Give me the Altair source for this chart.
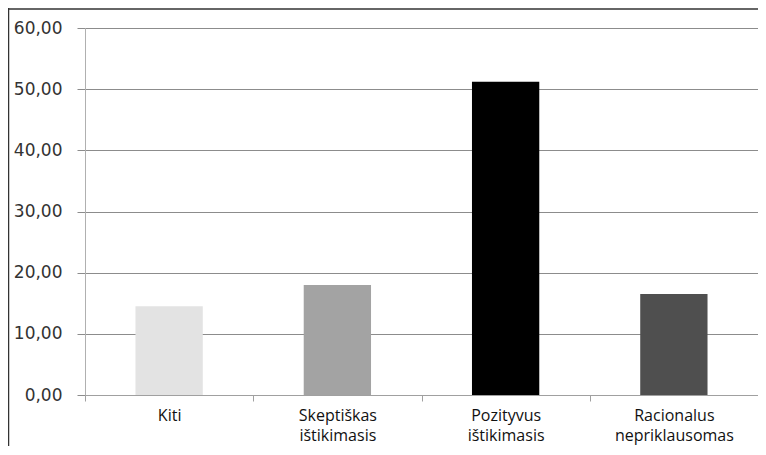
import altair as alt
import pandas as pd

categories = ["Kiti", "Skeptiškas ištikimasis", "Pozityvus ištikimasis", "Racionalus nepriklausomas"]
values = [14.5, 18.0, 51.2, 16.5]
colors = ["#e3e3e3", "#a3a3a3", "#000000", "#4f4f4f"]
y_ticks = [0, 10, 20, 30, 40, 50, 60]

df = pd.DataFrame({"cat": categories, "val": values})

bars = alt.Chart(df).mark_bar(width=alt.RelativeBandSize(0.4)).encode(
    x=alt.X("cat:N", sort=categories,
            scale=alt.Scale(paddingInner=0, paddingOuter=0),
            axis=alt.Axis(title=None, labelAngle=0, tickBand="extent",
                          labelExpr="split(datum.label, ' ')",
                          labelFont="Open Sans", labelFontSize=16, labelColor="#111111",
                          labelLineHeight=20, labelPadding=6,
                          domainColor="#a0a0a0", tickColor="#a0a0a0", tickSize=6,
                          grid=False)),
    y=alt.Y("val:Q", scale=alt.Scale(domain=[0, 60], nice=False),
            axis=alt.Axis(title=None, values=y_ticks,
                          labelExpr="replace(format(datum.value, '.2f'), '.', ',')",
                          labelFont="DejaVu Sans", labelFontSize=17, labelColor="#333333",
                          labelPadding=15, tickSize=8, tickColor="#8c8c8c",
                          domainColor="#b0b0b0", gridColor="#8c8c8c", gridWidth=1)),
    color=alt.Color("cat:N", scale=alt.Scale(domain=categories, range=colors), legend=None),
)

frame_df = pd.DataFrame({"a": [0]})
top_line = alt.Chart(frame_df).mark_rule(color="#333333", strokeWidth=1.5).encode(
    x=alt.value(-77), x2=alt.value(680), y=alt.value(-19))
left_line = alt.Chart(frame_df).mark_rule(color="#333333", strokeWidth=1.5).encode(
    x=alt.value(-76.5), y=alt.value(-20), y2=alt.value(460))

chart = alt.layer(bars, top_line, left_line).properties(
    width=673, height=367,
    autosize=alt.AutoSizeParams(type="none"),
    padding={"left": 77, "top": 20, "right": 0, "bottom": 51},
    background="white",
).configure_view(stroke=None)

chart.save("out.html", embed_options={"renderer": "svg", "actions": False})
